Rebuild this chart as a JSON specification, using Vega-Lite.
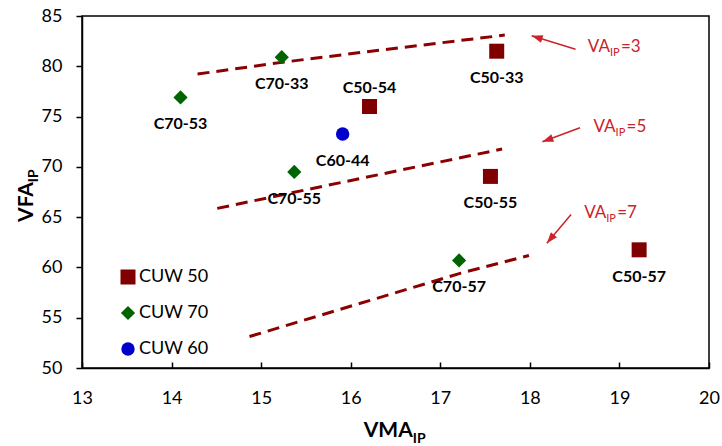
{
  "$schema": "https://vega.github.io/schema/vega-lite/v6.json",
  "width": 627,
  "height": 352,
  "autosize": {"type": "none"},
  "padding": {"left": 82, "top": 16, "right": 13, "bottom": 78},
  "background": "white",
  "config": {
    "font": "Lato",
    "view": {"stroke": "#000", "strokeWidth": 1.5},
    "axis": {
      "grid": false,
      "domainColor": "#000",
      "domainWidth": 1.5,
      "tickColor": "#000",
      "tickWidth": 1.5,
      "labelColor": "#000",
      "labelFont": "Lato",
      "labelFontSize": 18,
      "labelFlush": false,
      "title": null
    }
  },
  "datasets": {
    "points": [
      {"name": "C50-33", "group": "CUW 50", "vma": 17.63, "vfa": 81.5, "pos": "below"},
      {"name": "C50-54", "group": "CUW 50", "vma": 16.21, "vfa": 76.0, "pos": "above"},
      {"name": "C50-55", "group": "CUW 50", "vma": 17.56, "vfa": 69.05, "pos": "below"},
      {"name": "C50-57", "group": "CUW 50", "vma": 19.22, "vfa": 61.75, "pos": "below"},
      {"name": "C70-33", "group": "CUW 70", "vma": 15.23, "vfa": 80.9, "pos": "below"},
      {"name": "C70-53", "group": "CUW 70", "vma": 14.1, "vfa": 76.9, "pos": "below"},
      {"name": "C70-55", "group": "CUW 70", "vma": 15.37, "vfa": 69.5, "pos": "below"},
      {"name": "C70-57", "group": "CUW 70", "vma": 17.21, "vfa": 60.7, "pos": "below"},
      {"name": "C60-44", "group": "CUW 60", "vma": 15.91, "vfa": 73.26, "pos": "below"}
    ],
    "lines": [
      {"va": "VA3", "vma": 14.29, "vfa": 79.23},
      {"va": "VA3", "vma": 15.23, "vfa": 80.39},
      {"va": "VA3", "vma": 16.11, "vfa": 81.37},
      {"va": "VA3", "vma": 17.72, "vfa": 83.1},
      {"va": "VA5", "vma": 14.51, "vfa": 65.87},
      {"va": "VA5", "vma": 16.11, "vfa": 68.85},
      {"va": "VA5", "vma": 17.69, "vfa": 71.77},
      {"va": "VA7", "vma": 14.87, "vfa": 53.13},
      {"va": "VA7", "vma": 17.23, "vfa": 59.43},
      {"va": "VA7", "vma": 17.99, "vfa": 61.19}
    ],
    "arrows": [
      {"id": "a3", "x": 18.51, "y": 81.69, "x2": 18.02, "y2": 83.04},
      {"id": "a5", "x": 18.56, "y": 73.89, "x2": 18.14, "y2": 72.49},
      {"id": "a7", "x": 18.46, "y": 65.27, "x2": 18.19, "y2": 62.41}
    ],
    "notes": [
      {"kind": "va", "label": "VA", "sub": "IP", "rest": "=3", "x": 18.894, "y": 81.39},
      {"kind": "va", "label": "VA", "sub": "IP", "rest": "=5", "x": 18.957, "y": 73.49},
      {"kind": "va", "label": "VA", "sub": "IP", "rest": "=7", "x": 18.853, "y": 64.87},
      {"kind": "xtitle", "label": "VMA", "sub": "IP", "rest": "", "x": 16.693, "y": 43.14},
      {"kind": "ytitle", "label": "VFA", "sub": "IP", "rest": "", "x": 12.454, "y": 68.48}
    ]
  },
  "layer": [
    {
      "data": {"name": "lines"},
      "mark": {"type": "line", "color": "#8B0000", "strokeWidth": 3, "strokeDash": [12, 7], "strokeCap": "butt"},
      "encoding": {
        "x": {"field": "vma", "type": "quantitative", "scale": {"domain": [13, 20], "nice": false, "zero": false},
          "axis": {"values": [13, 14, 15, 16, 17, 18, 19, 20], "format": "d", "tickSize": -6, "labelPadding": 27}},
        "y": {"field": "vfa", "type": "quantitative", "scale": {"domain": [50, 85], "nice": false, "zero": false},
          "axis": {"values": [50, 55, 60, 65, 70, 75, 80, 85], "format": "d", "tickSize": 6, "labelPadding": 14}},
        "detail": {"field": "va"}
      }
    },
    {
      "data": {"name": "arrows"},
      "mark": {"type": "rule", "color": "#CC2229", "strokeWidth": 1.5},
      "encoding": {
        "x": {"field": "x", "type": "quantitative", "scale": {"domain": [13, 20], "nice": false, "zero": false}},
        "y": {"field": "y", "type": "quantitative", "scale": {"domain": [50, 85], "nice": false, "zero": false}},
        "x2": {"field": "x2"},
        "y2": {"field": "y2"}
      }
    },
    {
      "data": {"name": "arrows"},
      "transform": [{"filter": "datum.id == 'a3'"}],
      "mark": {"type": "point", "shape": "M0,0L0.36,1L-0.36,1Z", "filled": true, "color": "#CC2229", "opacity": 1, "size": 484, "angle": 287, "strokeWidth": 0},
      "encoding": {
        "x": {"field": "x2", "type": "quantitative", "scale": {"domain": [13, 20], "nice": false, "zero": false}},
        "y": {"field": "y2", "type": "quantitative", "scale": {"domain": [50, 85], "nice": false, "zero": false}}
      }
    },
    {
      "data": {"name": "arrows"},
      "transform": [{"filter": "datum.id == 'a5'"}],
      "mark": {"type": "point", "shape": "M0,0L0.36,1L-0.36,1Z", "filled": true, "color": "#CC2229", "opacity": 1, "size": 484, "angle": 250, "strokeWidth": 0},
      "encoding": {
        "x": {"field": "x2", "type": "quantitative", "scale": {"domain": [13, 20], "nice": false, "zero": false}},
        "y": {"field": "y2", "type": "quantitative", "scale": {"domain": [50, 85], "nice": false, "zero": false}}
      }
    },
    {
      "data": {"name": "arrows"},
      "transform": [{"filter": "datum.id == 'a7'"}],
      "mark": {"type": "point", "shape": "M0,0L0.36,1L-0.36,1Z", "filled": true, "color": "#CC2229", "opacity": 1, "size": 484, "angle": 220, "strokeWidth": 0},
      "encoding": {
        "x": {"field": "x2", "type": "quantitative", "scale": {"domain": [13, 20], "nice": false, "zero": false}},
        "y": {"field": "y2", "type": "quantitative", "scale": {"domain": [50, 85], "nice": false, "zero": false}}
      }
    },
    {
      "data": {"name": "points"},
      "mark": {"type": "point", "filled": true, "opacity": 1, "strokeWidth": 0},
      "encoding": {
        "x": {"field": "vma", "type": "quantitative", "scale": {"domain": [13, 20], "nice": false, "zero": false}},
        "y": {"field": "vfa", "type": "quantitative", "scale": {"domain": [50, 85], "nice": false, "zero": false}},
        "color": {"field": "group", "type": "nominal",
          "scale": {"domain": ["CUW 50", "CUW 70", "CUW 60"], "range": ["#800000", "#006400", "#0000CC"]},
          "legend": {"title": null, "orient": "none", "legendX": 37, "legendY": 252, "padding": 0, "rowPadding": 18,
            "labelFont": "Lato", "labelFontSize": 18, "labelColor": "#000", "labelOffset": 2, "symbolSize": 150, "symbolStrokeWidth": 0}},
        "shape": {"field": "group", "type": "nominal",
          "scale": {"domain": ["CUW 50", "CUW 70", "CUW 60"], "range": ["square", "diamond", "circle"]},
          "legend": {"title": null, "orient": "none", "legendX": 37, "legendY": 252, "padding": 0, "rowPadding": 18,
            "labelFont": "Lato", "labelFontSize": 18, "labelColor": "#000", "labelOffset": 2, "symbolSize": 150, "symbolStrokeWidth": 0}},
        "size": {"field": "group", "type": "nominal",
          "scale": {"domain": ["CUW 50", "CUW 70", "CUW 60"], "range": [225, 180, 180]}, "legend": null}
      }
    },
    {
      "data": {"name": "points"},
      "transform": [{"filter": "datum.pos == 'below'"}],
      "mark": {"type": "text", "font": "Lato", "fontWeight": "bold", "fontSize": 16, "color": "#000", "baseline": "middle", "align": "center", "dy": 27},
      "encoding": {
        "x": {"field": "vma", "type": "quantitative", "scale": {"domain": [13, 20], "nice": false, "zero": false}},
        "y": {"field": "vfa", "type": "quantitative", "scale": {"domain": [50, 85], "nice": false, "zero": false}},
        "text": {"field": "name"}
      }
    },
    {
      "data": {"name": "points"},
      "transform": [{"filter": "datum.pos == 'above'"}],
      "mark": {"type": "text", "font": "Lato", "fontWeight": "bold", "fontSize": 16, "color": "#000", "baseline": "middle", "align": "center", "dy": -19},
      "encoding": {
        "x": {"field": "vma", "type": "quantitative", "scale": {"domain": [13, 20], "nice": false, "zero": false}},
        "y": {"field": "vfa", "type": "quantitative", "scale": {"domain": [50, 85], "nice": false, "zero": false}},
        "text": {"field": "name"}
      }
    },
    {
      "data": {"name": "notes"},
      "transform": [{"filter": "datum.kind == 'va'"}],
      "layer": [
        {"mark": {"type": "text", "font": "Lato", "fontSize": 17, "color": "#CC2229", "align": "right", "baseline": "alphabetic"},
          "encoding": {"text": {"field": "label"}}},
        {"mark": {"type": "text", "font": "Lato", "fontSize": 11, "color": "#CC2229", "align": "left", "baseline": "alphabetic", "dy": 4},
          "encoding": {"text": {"field": "sub"}}},
        {"mark": {"type": "text", "font": "Lato", "fontSize": 17, "color": "#CC2229", "align": "left", "baseline": "alphabetic", "dx": 11},
          "encoding": {"text": {"field": "rest"}}}
      ],
      "encoding": {
        "x": {"field": "x", "type": "quantitative", "scale": {"domain": [13, 20], "nice": false, "zero": false}},
        "y": {"field": "y", "type": "quantitative", "scale": {"domain": [50, 85], "nice": false, "zero": false}}
      }
    },
    {
      "data": {"name": "notes"},
      "transform": [{"filter": "datum.kind == 'xtitle'"}],
      "layer": [
        {"mark": {"type": "text", "font": "Lato", "fontWeight": "bold", "fontSize": 21, "color": "#000", "align": "right", "baseline": "alphabetic"},
          "encoding": {"text": {"field": "label"}}},
        {"mark": {"type": "text", "font": "Lato", "fontWeight": "bold", "fontSize": 14, "color": "#000", "align": "left", "baseline": "alphabetic", "dy": 6},
          "encoding": {"text": {"field": "sub"}}}
      ],
      "encoding": {
        "x": {"field": "x", "type": "quantitative", "scale": {"domain": [13, 20], "nice": false, "zero": false}},
        "y": {"field": "y", "type": "quantitative", "scale": {"domain": [50, 85], "nice": false, "zero": false}}
      }
    },
    {
      "data": {"name": "notes"},
      "transform": [{"filter": "datum.kind == 'ytitle'"}],
      "layer": [
        {"mark": {"type": "text", "font": "Lato", "fontWeight": "bold", "fontSize": 21, "color": "#000", "align": "right", "baseline": "alphabetic", "angle": 270},
          "encoding": {"text": {"field": "label"}}},
        {"mark": {"type": "text", "font": "Lato", "fontWeight": "bold", "fontSize": 14, "color": "#000", "align": "left", "baseline": "alphabetic", "angle": 270, "dy": 5},
          "encoding": {"text": {"field": "sub"}}}
      ],
      "encoding": {
        "x": {"field": "x", "type": "quantitative", "scale": {"domain": [13, 20], "nice": false, "zero": false}},
        "y": {"field": "y", "type": "quantitative", "scale": {"domain": [50, 85], "nice": false, "zero": false}}
      }
    }
  ]
}
